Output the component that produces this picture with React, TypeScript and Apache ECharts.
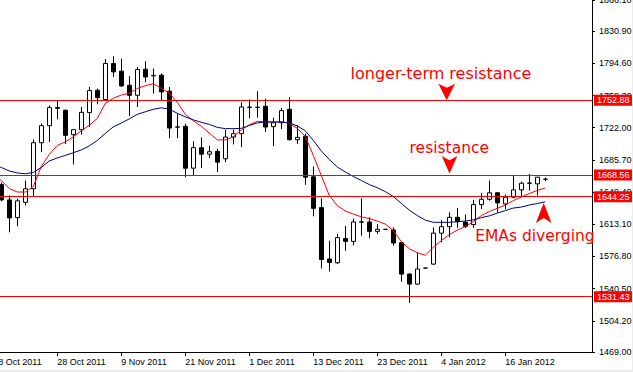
import React, { useEffect, useRef } from 'react';
import * as echarts from 'echarts';

// Bar index 0 = 18 Oct 2011 ... index 69 = 23 Jan 2012 (daily bars)
const opens = [
  1634.0, 1657.9, 1640.6, 1620.6, 1637.9, 1653.1, 1705.1, 1724.3, 1744.7, 1741.7,
  1714.2, 1719.8, 1739.1, 1764.3, 1753.8, 1794.5, 1785.8, 1769.9, 1758.6, 1788.0,
  1781.0, 1781.3, 1763.2, 1722.6, 1723.6, 1676.4, 1699.5, 1692.2, 1695.3, 1687.0,
  1711.5, 1715.3, 1745.2, 1744.9, 1746.2, 1723.2, 1727.7, 1742.8, 1708.5, 1712.2,
  1666.7, 1631.9, 1573.9, 1569.7, 1597.0, 1593.8, 1615.5, 1615.7, 1605.1, 1607.4,
  1606.7, 1592.3, 1556.9, 1545.6, 1563.7, 1568.2, 1603.1, 1610.4, 1620.9, 1615.3,
  1612.7, 1635.3, 1641.3, 1648.6, 1636.1, 1643.6, 1651.9, 1659.4, 1658.7, 1663.9,
];
const closes = [
  1657.0, 1640.6, 1620.3, 1639.5, 1653.1, 1705.1, 1724.3, 1744.7, 1743.9, 1713.4,
  1719.8, 1739.4, 1763.9, 1756.0, 1794.5, 1785.0, 1769.1, 1758.6, 1787.7, 1779.3,
  1780.6, 1762.4, 1721.6, 1722.9, 1676.4, 1699.5, 1692.2, 1694.9, 1683.2, 1711.5,
  1715.3, 1745.4, 1745.0, 1745.1, 1722.8, 1727.7, 1741.3, 1708.5, 1711.1, 1666.2,
  1631.1, 1573.4, 1570.0, 1598.0, 1593.8, 1615.7, 1615.9, 1605.1, 1607.4, 1607.4,
  1592.0, 1556.9, 1545.6, 1562.6, 1563.7, 1603.1, 1610.4, 1620.9, 1616.1, 1610.8,
  1635.3, 1641.3, 1648.6, 1637.2, 1643.6, 1651.9, 1659.4, 1659.6, 1666.2, 1664.0,
];
const lows = [
  1628.0, 1639.0, 1604.0, 1610.8, 1634.2, 1644.4, 1694.5, 1705.8, 1731.5, 1703.5,
  1680.6, 1714.2, 1722.8, 1748.4, 1753.0, 1779.3, 1768.0, 1735.2, 1745.4, 1773.7,
  1760.6, 1753.0, 1710.3, 1710.3, 1666.2, 1668.5, 1676.4, 1687.7, 1671.9, 1683.2,
  1703.2, 1700.1, 1732.6, 1733.4, 1717.1, 1701.3, 1720.5, 1707.7, 1703.5, 1657.6,
  1622.1, 1563.3, 1559.9, 1568.2, 1583.3, 1589.3, 1600.2, 1597.2, 1602.2, 1607.2,
  1588.9, 1548.2, 1524.4, 1544.8, 1563.5, 1567.4, 1592.7, 1598.3, 1609.0, 1609.0,
  1609.0, 1630.4, 1639.8, 1626.3, 1630.0, 1642.4, 1644.4, 1651.2, 1645.5, 1661.7,
];
const highs = [
  1661.0, 1660.2, 1645.5, 1642.1, 1662.5, 1708.8, 1726.9, 1747.3, 1753.0, 1742.5,
  1720.0, 1745.4, 1768.0, 1766.2, 1799.4, 1802.7, 1800.1, 1780.1, 1790.6, 1797.1,
  1788.8, 1783.2, 1768.0, 1737.9, 1726.6, 1706.6, 1711.1, 1701.7, 1698.3, 1719.8,
  1719.8, 1750.7, 1753.8, 1763.2, 1754.9, 1733.4, 1744.3, 1756.4, 1724.7, 1715.3,
  1678.3, 1642.4, 1594.6, 1602.2, 1611.2, 1619.5, 1642.4, 1620.9, 1613.5, 1607.6,
  1609.6, 1593.4, 1558.0, 1580.7, 1563.9, 1609.6, 1617.8, 1626.6, 1631.6, 1624.0,
  1640.6, 1648.6, 1662.5, 1649.2, 1646.6, 1668.9, 1661.3, 1670.0, 1666.4, 1665.9,
];
const emaFast = [
  1668.1, 1662.5, 1653.4, 1649.5, 1649.5, 1655.7, 1678.3, 1691.9, 1702.1, 1706.0,
  1711.7, 1718.5, 1724.7, 1732.6, 1749.6, 1755.2, 1758.9, 1760.9, 1766.3, 1769.4,
  1771.6, 1766.5, 1760.9, 1750.7, 1737.1, 1729.8, 1723.6, 1716.0, 1708.3, 1708.3,
  1711.7, 1719.6, 1725.3, 1729.2, 1728.6, 1728.4, 1728.9, 1727.0, 1721.3, 1712.2,
  1690.8, 1668.1, 1645.5, 1634.2, 1628.0, 1624.6, 1621.5, 1619.5, 1616.7, 1613.3,
  1605.9, 1593.5, 1585.5, 1581.0, 1578.2, 1587.2, 1594.6, 1601.4, 1606.5, 1610.4,
  1616.1, 1622.9, 1627.4, 1631.1, 1634.8, 1639.8, 1643.8, 1647.8, 1651.2, 1654.0,
];
const emaSlow = [
  1680.6, 1677.2, 1673.2, 1671.0, 1670.1, 1671.5, 1677.2, 1684.5, 1687.9, 1690.8,
  1693.8, 1697.0, 1701.5, 1707.7, 1715.6, 1723.0, 1727.3, 1732.0, 1737.1, 1740.0,
  1742.8, 1744.5, 1743.0, 1738.3, 1734.3, 1730.9, 1728.1, 1725.8, 1722.4, 1721.0,
  1721.0, 1721.3, 1724.5, 1727.5, 1728.4, 1728.4, 1728.3, 1727.4, 1724.1, 1718.5,
  1707.7, 1695.8, 1686.2, 1677.7, 1672.1, 1667.0, 1662.5, 1657.9, 1654.3, 1650.0,
  1644.4, 1636.7, 1629.1, 1622.9, 1617.8, 1615.3, 1615.3, 1615.3, 1615.9, 1616.7,
  1618.1, 1620.6, 1622.6, 1625.7, 1628.5, 1631.4, 1632.5, 1634.8, 1636.5, 1638.4,
];

const xTickIndex = [0, 8, 16, 24, 32, 40, 48, 56, 64];
const xTickLabels = [
  '18 Oct 2011', '28 Oct 2011', '9 Nov 2011', '21 Nov 2011', '1 Dec 2011',
  '13 Dec 2011', '23 Dec 2011', '4 Jan 2012', '16 Jan 2012',
];
const yTickValues = [1469.0, 1504.2, 1540.5, 1576.8, 1613.1, 1649.4, 1685.7, 1722.0, 1758.3, 1794.6, 1830.9, 1866.1];
const levels = [1752.88, 1668.56, 1644.25, 1531.43];

const annotationTexts = ['longer-term resistance', 'resistance', 'EMAs diverging'];
const annotationAnchors = [[55.96, 1782.9], [57.0, 1698.9], [67.7, 1599.7]];
const arrowTips = [[56.68, 1752.9], [57.03, 1670.4], [68.8, 1637.0]];
const arrowDirs = ['down', 'down', 'up'];

const X_MIN = -0.1625;
const X_MAX = 74.8375;
const Y_MIN = 1469.0;
const Y_MAX = 1866.1;

export default function App() {
  const ref = useRef<HTMLDivElement>(null);

  useEffect(() => {
    if (!ref.current) return;
    const chart = echarts.init(ref.current, undefined, { renderer: 'svg' });
    const candles = opens.map((o, i) => [i, o, closes[i], lows[i], highs[i]]);
    const fast = emaFast.map((v, i) => [i, v]);
    const slow = emaSlow.map((v, i) => [i, v]);
    const lastClose = closes[closes.length - 1];
    const axisFont = { fontSize: 9, fontFamily: '"Liberation Sans", Arial, sans-serif', color: '#000' };
    const red = '#ff0000';

    chart.setOption({
      animation: false,
      backgroundColor: '#ffffff',
      grid: { left: -8, right: 40, top: 0, bottom: 18, outerBoundsMode: 'none', containLabel: false },
      xAxis: {
        type: 'value',
        min: X_MIN,
        max: X_MAX,
        position: 'bottom',
        splitLine: { show: false },
        axisLine: { show: true, onZero: false, lineStyle: { color: '#000', width: 1 } },
        axisTick: { show: true, customValues: xTickIndex, length: 4, lineStyle: { color: '#000' } },
        axisLabel: {
          ...axisFont,
          customValues: xTickIndex,
          align: 'left',
          margin: 5,
          formatter: (v: number) => {
            const j = xTickIndex.indexOf(Math.round(v));
            return j >= 0 ? xTickLabels[j] : '';
          },
        },
      },
      yAxis: {
        type: 'value',
        position: 'right',
        min: Y_MIN,
        max: Y_MAX,
        splitLine: { show: false },
        axisLine: { show: true, onZero: false, lineStyle: { color: '#000', width: 1 } },
        axisTick: { show: true, customValues: yTickValues, length: 3, lineStyle: { color: '#000' } },
        axisLabel: {
          ...axisFont,
          customValues: yTickValues,
          margin: 7,
          formatter: (v: number) => v.toFixed(2),
        },
      },
      series: [
        {
          type: 'candlestick',
          data: candles,
          barWidth: 4,
          itemStyle: {
            color: '#ffffff',
            color0: '#000000',
            borderColor: '#000000',
            borderColor0: '#000000',
            borderColorDoji: '#000000',
            borderWidth: 1,
          },
          markLine: {
            silent: true,
            symbol: ['none', 'none'],
            z: 5,
            lineStyle: { opacity: 0 },
            label: {
              show: true,
              position: 'end',
              distance: 2,
              color: '#fff',
              backgroundColor: '#000',
              padding: [1, 3, 0, 3],
              fontSize: 9,
              lineHeight: 10,
              fontFamily: '"Liberation Sans", Arial, sans-serif',
              formatter: (p: any) => Number(p.value).toFixed(2),
            },
            data: [{ yAxis: lastClose }],
          },
        },
        {
          type: 'line',
          data: fast,
          symbol: 'none',
          lineStyle: { color: red, width: 1 },
          itemStyle: { color: red },
          z: 3,
        },
        {
          type: 'line',
          data: slow,
          symbol: 'none',
          lineStyle: { color: '#000080', width: 1 },
          itemStyle: { color: '#000080' },
          z: 3,
          markLine: {
            silent: true,
            symbol: ['none', 'none'],
            z: 6,
            itemStyle: { color: red },
            lineStyle: { color: red, width: 1, type: 'solid', opacity: 1 },
            label: {
              show: true,
              position: 'end',
              distance: 2,
              color: '#fff',
              backgroundColor: red,
              padding: [1, 3, 0, 3],
              fontSize: 9,
              lineHeight: 10,
              fontFamily: '"Liberation Sans", Arial, sans-serif',
              formatter: (p: any) => Number(p.value).toFixed(2),
            },
            data: levels.map((v) => ({
              yAxis: v,
              lineStyle: { color: red, width: 1, type: 'solid' },
            })),
          },
        },
      ],
    });

    const toPx = (p: number[]) => chart.convertToPixel({ gridIndex: 0 }, p) as unknown as number[];
    const fontSizes = [16, 15.5, 15.5];
    const arrowSizes = [[16.7, 16.7], [15.6, 17.5], [15.7, 20]];
    const graphics: any[] = [];
    annotationTexts.forEach((t, j) => {
      const [x, y] = toPx(annotationAnchors[j]);
      graphics.push({
        type: 'text',
        x,
        y,
        z: 20,
        style: {
          text: t,
          fill: red,
          fontSize: fontSizes[j],
          fontFamily: '"DejaVu Sans", sans-serif',
          align: 'center',
          verticalAlign: 'middle',
        },
      });
    });
    arrowTips.forEach((tip, j) => {
      const [tx, ty] = toPx(tip);
      const [w, h] = arrowSizes[j];
      const s = arrowDirs[j] === 'down' ? -1 : 1;
      graphics.push({
        type: 'polygon',
        z: 20,
        shape: {
          points: [
            [tx - w / 2, ty + s * h],
            [tx, ty + s * h * 0.75],
            [tx + w / 2, ty + s * h],
            [tx, ty],
          ],
        },
        style: { fill: red },
      });
    });
    chart.setOption({ graphic: graphics });

    return () => chart.dispose();
  }, []);

  return (
    <div style={{ position: 'fixed', left: 0, top: 0, width: 633, height: 372, background: '#ececec' }}>
      <div ref={ref} style={{ width: 632, height: 370, background: '#fff' }} />
    </div>
  );
}
